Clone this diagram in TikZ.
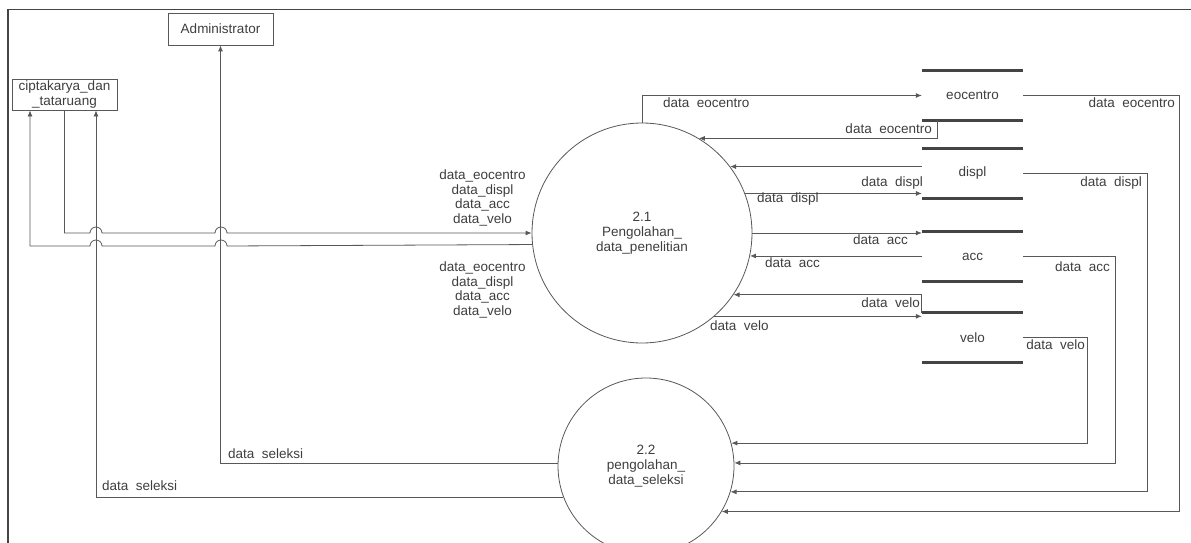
\documentclass[tikz,border=0pt]{standalone}
\usepackage{fontspec}
\setmainfont{Liberation Sans}
\usetikzlibrary{arrows.meta,calc}
\definecolor{ink}{RGB}{62,62,62}
\definecolor{linegray}{RGB}{88,88,88}
\definecolor{rim}{RGB}{68,68,68}

\begin{document}
\begin{tikzpicture}[x=1pt, y=-1pt, font=\fontsize{13.5}{14.8}\selectfont,
  entity/.style={draw=linegray, line width=0.8pt, text=ink,
    minimum width=105pt, minimum height=32pt, inner sep=1pt, align=center},
  process/.style={draw=linegray, line width=0.8pt, circle, text=ink,
    inner sep=0pt, align=center},
  store/.style={text=ink, minimum width=101pt, minimum height=49pt, inner sep=0pt},
  storeline/.style={draw=rim, line width=3pt},
  flow/.style={-{Latex[length=6pt,width=5pt]}, draw=linegray, line width=0.8pt},
  flowtext/.style={text=ink, inner sep=0pt},
  frame/.style={draw=rim, line width=1.6pt}
]
\useasboundingbox (0,0) rectangle (1191,543);
\clip (0,0) rectangle (1191,543);

\draw[frame] (8,560) -- (8,9.5) -- (1200,9.5);

% externals
\node[entity] (admin) at (220.5,29) {Administrator};
\node[entity, minimum height=31pt] (cipta) at (64.5,94.5) {ciptakarya\_dan\\\_tataruang};

% processes
\node[process, minimum size=220pt] (p21) at (642,233) {2.1\\Pengolahan\_\\data\_penelitian};
\node[process, minimum size=176pt] (p22) at (646,466) {2.2\\pengolahan\_\\data\_seleksi};

% data stores
\node[store] (eocentro) at (972.5,95.5) {eocentro};
\node[store] (displ) at (972.5,173.5) {displ};
\node[store] (acc) at (972.5,256.5) {acc};
\node[store] (velo) at (972.5,337.5) {velo};
\foreach \s in {eocentro,displ,acc,velo}{
  \draw[storeline] (\s.north west) -- (\s.north east);
  \draw[storeline] (\s.south west) -- (\s.south east);
}

% ciptakarya <-> 2.1
\draw[flow] (cipta.south) |- (90,233) arc[start angle=180,end angle=0,radius=6pt]
  -- (215,233) arc[start angle=180,end angle=0,radius=6pt] -- (p21.west);
\draw[flow] (p21.186.8) -- (227,246) arc[start angle=0,end angle=180,radius=6pt]
  -- (102,246) arc[start angle=0,end angle=180,radius=6pt] -| ([xshift=-34.5pt]cipta.south);
\node[flowtext, align=center] at (482.5,198) {data\_eocentro\\data\_displ\\data\_acc\\data\_velo};
\node[flowtext, align=center] at (482.5,290) {data\_eocentro\\data\_displ\\data\_acc\\data\_velo};

% 2.1 <-> stores
\draw[flow] (p21.north) |- (eocentro.west);
\node[flowtext, anchor=west] at (663,103) {data\ \ eocentro};
\draw[flow] ([xshift=16pt]eocentro.south west) |- (p21.59.7);
\node[flowtext, anchor=east] at (932,129) {data\ \ eocentro};
\draw[flow] (displ.west |- p21.37.5) -- (p21.37.5);
\node[flowtext, anchor=east] at (923,183) {data\ \ displ};
\draw[flow] (p21.21.6) -- (p21.21.6 -| displ.west);
\node[flowtext, anchor=west] at (757,199) {data\ \ displ};
\draw[flow] (p21.east) -- (p21.east -| acc.west);
\node[flowtext, anchor=east] at (908,240) {data\ \ acc};
\draw[flow] (acc.west |- p21.-12.6) -- (p21.-12.6);
\node[flowtext, anchor=west] at (765,263) {data\ \ acc};
\draw[flow] (velo.north west) |- (p21.-34.3);
\node[flowtext, anchor=east] at (920,303) {data\ \ velo};
\draw[flow] (p21.-49.8) -- (p21.-49.8 -| velo.west);
\node[flowtext, anchor=west] at (710,326) {data\ \ velo};

% stores -> 2.2
\coordinate (eocDrop) at (1179,300);
\coordinate (displDrop) at (1147,300);
\coordinate (accDrop) at (1115,300);
\coordinate (veloDrop) at (1087,400);
\draw[flow] (eocentro.east) -| (eocDrop) |- (p22.-31.5);
\node[flowtext, anchor=east] at (1175,103) {data\ \ eocentro};
\draw[flow] (displ.east) -| (displDrop) |- (p22.-17.2);
\node[flowtext, anchor=east] at (1142,183) {data\ \ displ};
\draw[flow] (acc.east) -| (accDrop) |- (p22.2);
\node[flowtext, anchor=east] at (1110,267) {data\ \ acc};
\draw[flow] (velo.east) -| (veloDrop) |- (p22.15.8);
\node[flowtext, anchor=east] at (1085,345) {data\ \ velo};

% 2.2 -> externals
\draw[flow] (p22.178) -| (admin.south);
\node[flowtext, anchor=west] at (228,454) {data\ \ seleksi};
\draw[flow] (p22.201.3) -| ([xshift=31.5pt]cipta.south);
\node[flowtext, anchor=west] at (102,486) {data\ \ seleksi};
\end{tikzpicture}
\end{document}
